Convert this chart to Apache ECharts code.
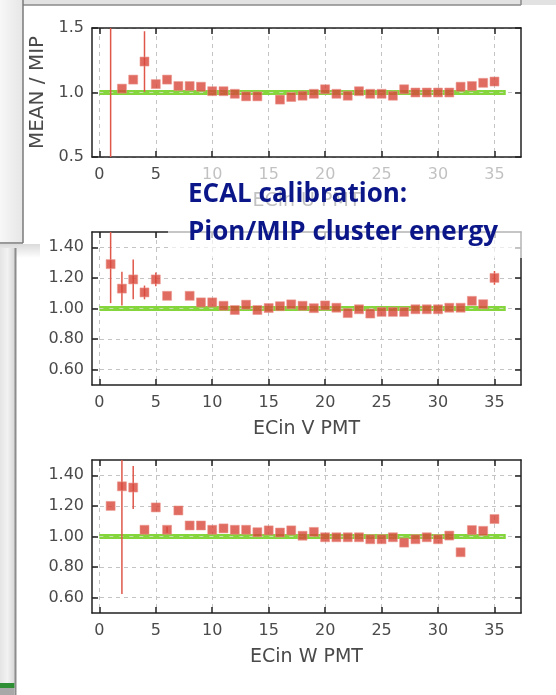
<!DOCTYPE html>
<html>
<head>
    <meta charset="utf-8"/>
    <title>ECAL calibration - Pion/MIP cluster energy</title>
    <script src="https://cdn.jsdelivr.net/npm/echarts@6/dist/echarts.min.js"></script>
    <style>
        html, body { margin: 0; padding: 0; background: #fff; }
        #myChart { width: 556px; height: 695px; }
    </style>
</head>
<body>
<div id="myChart"></div>
<script>
    // ECin U: PMT 15 has no point
    var pmtU = [1, 2, 3, 4, 5, 6, 7, 8, 9, 10, 11, 12, 13, 14, 16, 17, 18, 19, 20, 21, 22, 23, 24, 25, 26, 27, 28, 29, 30, 31, 32, 33, 34, 35];
    var meanU = [1.75, 1.03, 1.10, 1.24, 1.065, 1.10, 1.05, 1.05, 1.045, 1.01, 1.01, 0.99, 0.97, 0.97, 0.945, 0.965, 0.975, 0.99, 1.025, 0.99, 0.975, 1.01, 0.99, 0.99, 0.975, 1.025, 1.00, 1.00, 1.00, 1.00, 1.045, 1.05, 1.075, 1.085];
    var errU = [1.4, 0, 0, 0.235, 0, 0, 0, 0, 0, 0, 0, 0, 0, 0, 0, 0, 0, 0, 0, 0, 0, 0, 0, 0, 0, 0, 0, 0, 0, 0, 0, 0, 0, 0];

    // ECin V: PMT 7 has no point
    var pmtV = [1, 2, 3, 4, 5, 6, 8, 9, 10, 11, 12, 13, 14, 15, 16, 17, 18, 19, 20, 21, 22, 23, 24, 25, 26, 27, 28, 29, 30, 31, 32, 33, 34, 35];
    var meanV = [1.29, 1.13, 1.19, 1.105, 1.19, 1.083, 1.083, 1.04, 1.04, 1.018, 0.99, 1.025, 0.99, 1.003, 1.015, 1.027, 1.018, 1.002, 1.02, 1.005, 0.97, 0.995, 0.967, 0.978, 0.978, 0.978, 0.995, 0.995, 0.995, 1.005, 1.005, 1.05, 1.028, 1.20];
    var errV = [0.255, 0.11, 0.13, 0.045, 0.045, 0, 0, 0, 0, 0, 0, 0, 0, 0, 0, 0, 0, 0, 0, 0, 0, 0, 0, 0, 0, 0, 0, 0, 0, 0, 0, 0, 0, 0.045];

    // ECin W
    var pmtW = [1, 2, 3, 4, 5, 6, 7, 8, 9, 10, 11, 12, 13, 14, 15, 16, 17, 18, 19, 20, 21, 22, 23, 24, 25, 26, 27, 28, 29, 30, 31, 32, 33, 34, 35];
    var meanW = [1.20, 1.328, 1.32, 1.044, 1.19, 1.044, 1.17, 1.072, 1.072, 1.044, 1.053, 1.044, 1.044, 1.028, 1.04, 1.026, 1.04, 1.005, 1.03, 0.995, 0.995, 0.995, 0.995, 0.982, 0.982, 0.995, 0.96, 0.982, 0.995, 0.982, 1.006, 0.897, 1.042, 1.037, 1.114];
    var errW = [0, 0.704, 0.14, 0, 0, 0.02, 0, 0, 0, 0, 0, 0, 0, 0, 0, 0, 0, 0, 0, 0, 0, 0, 0, 0, 0, 0, 0, 0, 0, 0, 0, 0, 0, 0, 0];

    // reference line MEAN/MIP = 1
    var refX = [0, 36];
    var refY = 1.0;

    var xTicks = [0, 5, 10, 15, 20, 25, 30, 35];
    var yTicksU = [0.5, 1.0, 1.5];
    var yTicksVW = [0.6, 0.8, 1.0, 1.2, 1.4];
    var xNames = ['ECin U PMT', 'ECin V PMT', 'ECin W PMT'];

    var panels = [
        {pmt: pmtU, mean: meanU, err: errU, yTicks: yTicksU, digits: 1, top: 28, height: 129},
        {pmt: pmtV, mean: meanV, err: errV, yTicks: yTicksVW, digits: 2, top: 232, height: 153},
        {pmt: pmtW, mean: meanW, err: errW, yTicks: yTicksVW, digits: 2, top: 460, height: 153}
    ];

    var FONT = 'DejaVu Sans';
    var TXT = '#4a4a4a';
    var RED = '#d8463a';
    var GREEN = '#84d63c';

    var grids = [], xAxes = [], yAxes = [], series = [];

    panels.forEach(function (p, i) {
        grids.push({left: 92, right: 35, top: p.top, height: p.height});

        // bottom + top x axes
        [false, true].forEach(function (isTop) {
            xAxes.push({
                gridIndex: i, type: 'value', position: isTop ? 'top' : 'bottom',
                min: -0.65, max: 37.35,
                name: isTop ? '' : xNames[i], nameLocation: 'middle', nameGap: 35,
                nameTextStyle: {fontFamily: FONT, fontSize: 19, color: TXT},
                axisLine: {show: true, onZero: false, lineStyle: {color: '#222', width: 1.5}},
                axisTick: {show: true, inside: true, length: 6, customValues: xTicks, lineStyle: {color: '#222', width: 1.5}},
                axisLabel: {show: !isTop, customValues: xTicks, margin: 10, fontFamily: FONT, fontSize: 16, color: TXT},
                splitLine: {show: !isTop, lineStyle: {color: '#c4c4c4', type: [4, 4], width: 1}}
            });
        });

        // left + right y axes
        [false, true].forEach(function (isRight) {
            yAxes.push({
                gridIndex: i, type: 'value', position: isRight ? 'right' : 'left',
                min: 0.5, max: 1.5,
                name: (i === 0 && !isRight) ? 'MEAN / MIP' : '', nameLocation: 'middle', nameGap: 43,
                nameTextStyle: {fontFamily: FONT, fontSize: 20, color: TXT},
                axisLine: {show: true, onZero: false, lineStyle: {color: '#222', width: 1.5}},
                axisTick: {show: true, inside: true, length: 6, customValues: p.yTicks, lineStyle: {color: '#222', width: 1.5}},
                axisLabel: {
                    show: !isRight, customValues: p.yTicks, margin: 8, fontFamily: FONT, fontSize: 16, color: TXT,
                    formatter: function (v) { return v.toFixed(p.digits); }
                },
                splitLine: {show: !isRight, lineStyle: {color: '#c4c4c4', type: [4, 4], width: 1}}
            });
        });

        var pts = [], bars = [];
        for (var k = 0; k < p.pmt.length; k++) {
            pts.push([p.pmt[k], p.mean[k]]);
            if (p.err[k] > 0) {
                bars.push([p.pmt[k], p.mean[k] - p.err[k], p.mean[k] + p.err[k]]);
            }
        }

        series.push({
            type: 'line', xAxisIndex: 2 * i, yAxisIndex: 2 * i, z: 2,
            data: refX.map(function (x) { return [x, refY]; }),
            symbol: 'none', silent: true,
            lineStyle: {color: GREEN, width: 5}
        });
        series.push({
            type: 'line', xAxisIndex: 2 * i, yAxisIndex: 2 * i, z: 3,
            data: refX.map(function (x) { return [x, refY]; }),
            symbol: 'none', silent: true,
            lineStyle: {color: 'rgba(220,220,220,0.75)', width: 1, type: [4, 6]}
        });
        series.push({
            type: 'custom', xAxisIndex: 2 * i, yAxisIndex: 2 * i, z: 4, clip: true,
            data: bars,
            renderItem: function (params, api) {
                var a = api.coord([api.value(0), api.value(1)]);
                var b = api.coord([api.value(0), api.value(2)]);
                return {
                    type: 'line',
                    shape: {x1: a[0], y1: a[1], x2: b[0], y2: b[1]},
                    style: {stroke: '#e0574a', lineWidth: 1.5}
                };
            }
        });
        series.push({
            type: 'scatter', xAxisIndex: 2 * i, yAxisIndex: 2 * i, z: 5,
            data: pts, symbol: 'rect', symbolSize: 9,
            itemStyle: {color: RED, borderColor: 'rgba(235,150,140,0.7)', borderWidth: 1}
        });
    });

    var myChart = echarts.init(document.getElementById('myChart'), null, {renderer: 'canvas'});
    var option = {
        backgroundColor: '#fff',
        animation: false,
        grid: grids,
        xAxis: xAxes,
        yAxis: yAxes,
        series: series,
        graphic: [
            // slide window frame bits
            {type: 'rect', shape: {x: 0, y: 0, width: 556, height: 5}, style: {fill: '#e2e2e2'}, z: 50},
            {type: 'rect', shape: {x: 0, y: 0, width: 23, height: 243},
                style: {fill: new echarts.graphic.LinearGradient(0, 0, 1, 0, [{offset: 0, color: '#f7f7f7'}, {offset: 1, color: '#e6e6e6'}])}, z: 50},
            {type: 'line', shape: {x1: 23, y1: 5, x2: 521, y2: 5}, style: {stroke: '#8a8a8a', lineWidth: 1.5}, z: 51},
            {type: 'line', shape: {x1: 23, y1: 0, x2: 23, y2: 243}, style: {stroke: '#7a7a7a', lineWidth: 1.5}, z: 51},
            {type: 'line', shape: {x1: 521, y1: 0, x2: 521, y2: 5}, style: {stroke: '#8a8a8a', lineWidth: 1.5}, z: 51},
            {type: 'line', shape: {x1: 0, y1: 243, x2: 23, y2: 243}, style: {stroke: '#7a7a7a', lineWidth: 1.5}, z: 51},
            {type: 'rect', shape: {x: 0, y: 244, width: 40, height: 14},
                style: {fill: new echarts.graphic.LinearGradient(0, 0, 0, 1, [{offset: 0, color: 'rgba(150,150,150,0.35)'}, {offset: 1, color: 'rgba(150,150,150,0)'}])}, z: 50},
            {type: 'rect', shape: {x: 0, y: 248, width: 15, height: 435},
                style: {fill: new echarts.graphic.LinearGradient(0, 0, 1, 0, [{offset: 0, color: '#e4e4e4'}, {offset: 0.5, color: '#f2f2f2'}, {offset: 1, color: '#d6d6d6'}])}, z: 50},
            {type: 'line', shape: {x1: 15.5, y1: 248, x2: 15.5, y2: 695}, style: {stroke: '#8c8c8c', lineWidth: 2}, z: 51},
            {type: 'rect', shape: {x: 0, y: 683, width: 14.5, height: 5}, style: {fill: '#2f8f34'}, z: 51},
            {type: 'rect', shape: {x: 0, y: 688, width: 14.5, height: 7}, style: {fill: '#a8a8a8'}, z: 51},
            // semi-transparent text box behind the title
            {type: 'rect', shape: {x: 168, y: 162, width: 362, height: 96}, style: {fill: 'rgba(255,255,255,0.66)'}, z: 100},
            {type: 'text', x: 188, y: 195, z: 101,
                style: {text: 'ECAL calibration:', fontFamily: 'Open Sans', fontWeight: 'bold', fontSize: 26, fill: '#0b1689', verticalAlign: 'middle'}},
            {type: 'text', x: 188, y: 233, z: 101,
                style: {text: 'Pion/MIP cluster energy', fontFamily: 'Open Sans', fontWeight: 'bold', fontSize: 26, fill: '#0b1689', verticalAlign: 'middle'}}
        ]
    };
    myChart.setOption(option);
</script>
</body>
</html>
